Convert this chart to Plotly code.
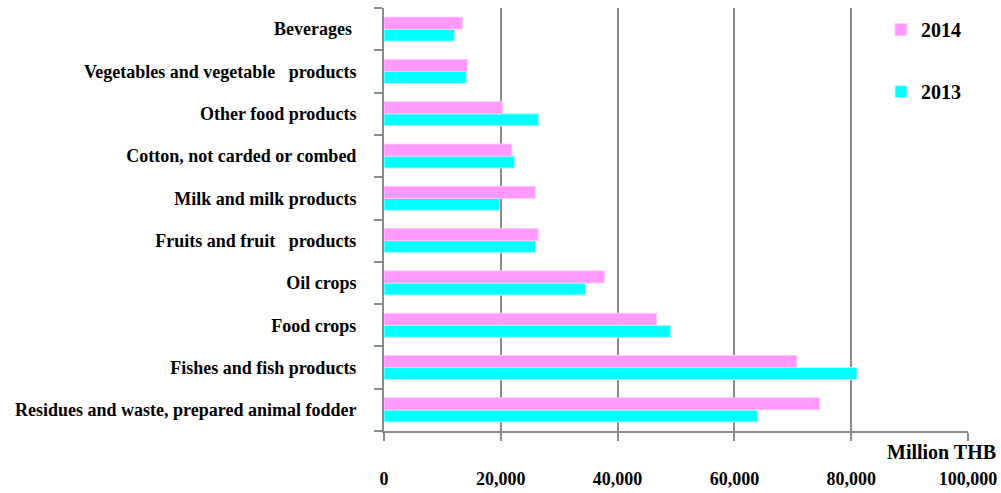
import plotly.graph_objects as go

categories = [
    "Residues and waste, prepared animal fodder",
    "Fishes and fish products",
    "Food crops",
    "Oil crops",
    "Fruits and fruit   products",
    "Milk and milk products",
    "Cotton, not carded or combed",
    "Other food products",
    "Vegetables and vegetable   products",
    "Beverages ",
]
values_2013 = [64000, 81000, 49100, 34500, 26000, 19800, 22400, 26500, 14100, 12100]
values_2014 = [74600, 70700, 46700, 37700, 26400, 25900, 21900, 20300, 14300, 13400]
x_ticks = [0, 20000, 40000, 60000, 80000, 100000]
x_tick_labels = ["0", "20,000", "40,000", "60,000", "80,000", "100,000"]

FONT = "Liberation Serif"
GREY = "#8a8a8a"

fig = go.Figure()
fig.add_trace(go.Bar(
    y=categories, x=values_2013, name="2013", orientation="h",
    marker=dict(color="#00FFFF", line=dict(color="#B8FFFF", width=1)),
    legendgroup="b", legendrank=2,
))
fig.add_trace(go.Bar(
    y=categories, x=values_2014, name="2014", orientation="h",
    marker=dict(color="#FF99FF", line=dict(color="#FFC8FF", width=1)),
    legendgroup="a", legendrank=1,
))

fig.update_layout(
    width=1001, height=493,
    margin=dict(l=384, r=33, t=8, b=62),
    paper_bgcolor="white", plot_bgcolor="white",
    barmode="group", bargap=0.43, bargroupgap=0,
    font=dict(family=FONT, color="black"),
    legend=dict(
        x=0.851, y=0.995, xanchor="left", yanchor="top",
        traceorder="grouped", tracegroupgap=33,
        font=dict(family=FONT, size=20, color="black", weight="bold"),
        bgcolor="rgba(0,0,0,0)",
    ),
    xaxis=dict(
        range=[0, 100000], tickvals=x_ticks, ticktext=x_tick_labels,
        showgrid=True, gridcolor=GREY, gridwidth=2,
        showline=True, linecolor=GREY, linewidth=2,
        ticks="outside", ticklen=8, tickcolor=GREY, tickwidth=2,
        zeroline=False, ticklabelstandoff=22, automargin=False,
        tickfont=dict(family=FONT, size=18, color="black", weight="bold"),
    ),
    yaxis=dict(
        showline=True, linecolor=GREY, linewidth=2,
        ticks="outside", ticklen=8, tickcolor=GREY, tickwidth=2,
        tickson="boundaries", showgrid=False, automargin=False,
        ticklabelstandoff=22,
        tickfont=dict(family=FONT, size=18, color="black", weight="bold"),
    ),
    annotations=[dict(
        text="Million THB", xref="paper", yref="paper",
        x=1.0514, y=-0.05, xanchor="right", yanchor="middle",
        showarrow=False,
        font=dict(family=FONT, size=20, color="black", weight="bold"),
    )],
)

fig.write_html("out.html", config={"displayModeBar": False})
with open("out.html", "r", encoding="utf-8") as f:
    html = f.read()
html = html.replace("<head>", "<head><style>html,body{margin:0;padding:0;overflow:hidden;}</style>", 1)
with open("out.html", "w", encoding="utf-8") as f:
    f.write(html)
